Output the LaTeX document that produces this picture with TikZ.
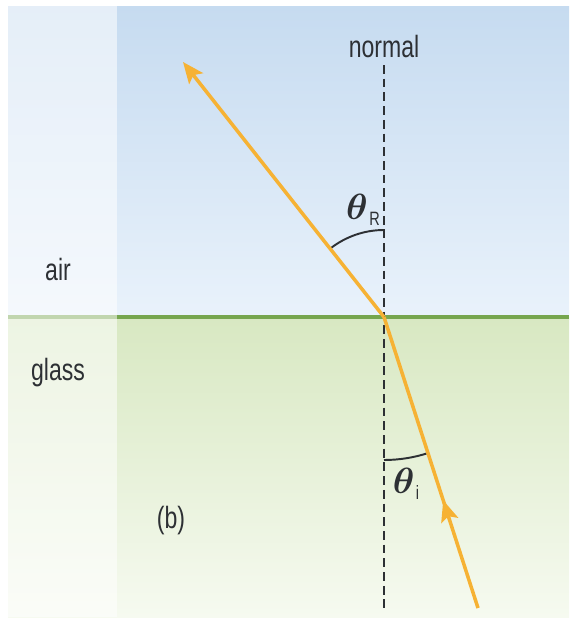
\documentclass[tikz,border=0pt]{standalone}
\usepackage{amsmath,bm}
\usepackage{fontspec}
\setmainfont{Liberation Sans}[FakeStretch=0.75]
\usepackage{tikz}
\usetikzlibrary{arrows.meta,decorations.markings}
\usepackage{xcolor}
\definecolor{airtop}{RGB}{198,219,240}
\definecolor{airbot}{RGB}{233,242,251}
\definecolor{glasstop}{RGB}{216,232,194}
\definecolor{glassbot}{RGB}{246,250,240}
\definecolor{boundary}{RGB}{118,166,78}
\definecolor{raycol}{RGB}{246,178,52}
\definecolor{ink}{RGB}{45,48,52}
\newcommand{\thetasub}[1]{{\fontsize{20}{22}\selectfont$\boldsymbol{\theta}$}\kern0.8pt\raisebox{-0.4ex}{\fontsize{11}{11}\selectfont #1}}

\begin{document}
\begin{tikzpicture}[x=0.02cm,y=0.02cm,
  ray/.style={draw=raycol, line width=2pt},
  lbl/.style={font=\fontsize{17.5}{20}\selectfont, text=ink, inner sep=0pt},
  anglearc/.style={draw=ink, line width=1.1pt},
  normalline/.style={draw=ink, line width=0.85pt, dash pattern=on 5pt off 2.8pt}]
  \useasboundingbox (0,0) rectangle (569,-623);
  % air and glass
  \shade[top color=airtop, bottom color=airbot] (8,-6) rectangle (569,-317);
  \shade[top color=glasstop, bottom color=glassbot] (8,-317) rectangle (569,-617);
  \draw[boundary, line width=2.8pt] (8,-317) -- (569,-317);
  \fill[white, opacity=0.55] (8,-6) rectangle (117,-617);

  \coordinate (O) at (384,-317);
  \coordinate (ntop) at (384,-65);
  \coordinate (nbot) at (384,-611);
  \coordinate (src) at (478,-608);
  \coordinate (tip) at (183,-62);

  \draw[normalline] (ntop) -- (nbot);
  \draw[anglearc] (O) ++(90:87) arc[start angle=90, end angle=128, radius=87];
  \draw[anglearc] (O) ++(-90:143) arc[start angle=-90, end angle=-72, radius=143];

  % rays
  \draw[ray, postaction={decorate}, decoration={markings,
    mark=at position 0.37 with {\arrow[raycol]{Stealth[length=12pt,width=10pt,inset=2.5pt]}}}] (src) -- (O);
  \draw[ray, -{Stealth[length=12pt,width=10pt,inset=2.5pt]}] (O) -- (tip);

  \node[lbl] (normal) at (384,-47) {normal};
  \node[lbl] (air) at (58,-270) {air};
  \node[lbl] (glass) at (58,-373) {glass};
  \node[lbl] (part) at (171,-521) {(b)};
  \node[lbl] (thR) at (363,-210) {\thetasub{R}};
  \node[lbl] (thi) at (406,-484) {\thetasub{i}};
\end{tikzpicture}
\end{document}
